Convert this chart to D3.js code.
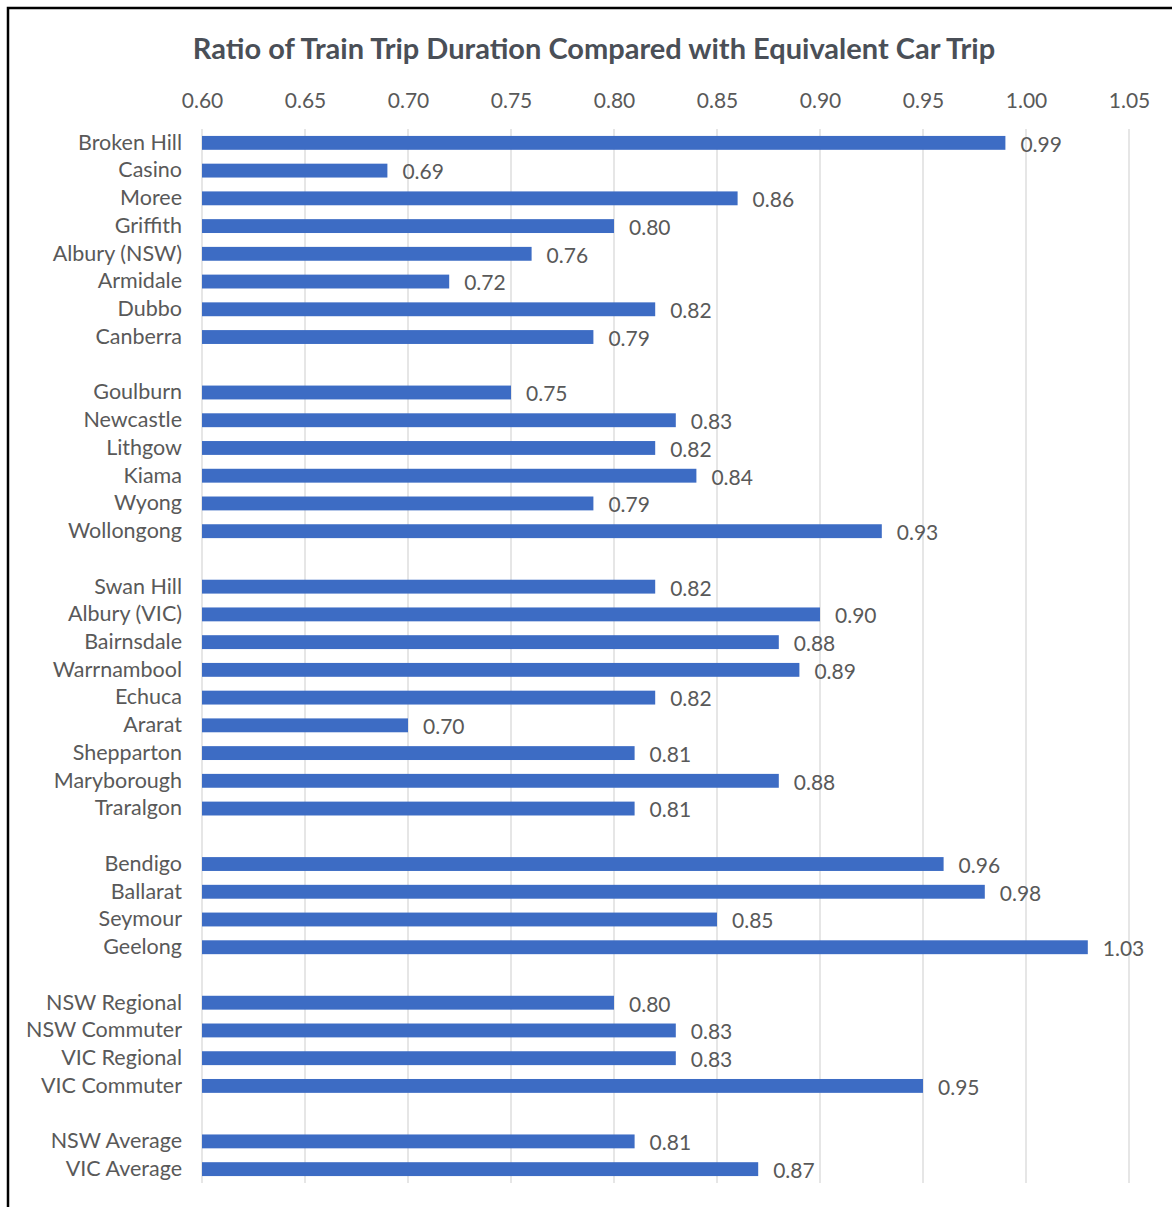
<!DOCTYPE html>
<html><head><meta charset="utf-8">
<script src="https://cdn.jsdelivr.net/npm/d3@7"></script>
<style>body{margin:0;background:#fff;}svg{display:block;}</style>
</head><body>
<script>
const title = "Ratio of Train Trip Duration Compared with Equivalent Car Trip";
const groups = [
  ["Broken Hill","Casino","Moree","Griffith","Albury (NSW)","Armidale","Dubbo","Canberra"],
  ["Goulburn","Newcastle","Lithgow","Kiama","Wyong","Wollongong"],
  ["Swan Hill","Albury (VIC)","Bairnsdale","Warrnambool","Echuca","Ararat","Shepparton","Maryborough","Traralgon"],
  ["Bendigo","Ballarat","Seymour","Geelong"],
  ["NSW Regional","NSW Commuter","VIC Regional","VIC Commuter"],
  ["NSW Average","VIC Average"]
];
const values = [
  [0.99,0.69,0.86,0.80,0.76,0.72,0.82,0.79],
  [0.75,0.83,0.82,0.84,0.79,0.93],
  [0.82,0.90,0.88,0.89,0.82,0.70,0.81,0.88,0.81],
  [0.96,0.98,0.85,1.03],
  [0.80,0.83,0.83,0.95],
  [0.81,0.87]
];
const ticks = [0.60,0.65,0.70,0.75,0.80,0.85,0.90,0.95,1.00,1.05];

const W = 1172, H = 1207;
const svg = d3.select("body").append("svg").attr("width", W).attr("height", H);
svg.append("rect").attr("width", W).attr("height", H).attr("fill", "#fff");
// frame
svg.append("path").attr("d", `M8,${H+5} V8 H${W+5}`).attr("fill","none").attr("stroke","#000").attr("stroke-width",2.5);

const font = "Lato, 'Open Sans', sans-serif";
const rows = [];
groups.forEach((g, gi) => {
  g.forEach((c, i) => rows.push({key: c, label: c, value: values[gi][i]}));
  if (gi < groups.length - 1) rows.push({key: "__gap" + gi, label: null, value: null});
});

const x = d3.scaleLinear().domain([0.60, 1.05]).range([202, 1129]);
const y = d3.scaleBand().domain(rows.map(r => r.key)).range([129, 1183]).paddingInner(0.5).paddingOuter(0.25);

svg.append("text").attr("x", 594).attr("y", 59).attr("text-anchor","middle")
  .attr("font-family", font).attr("font-weight","bold").attr("font-size", 29).attr("fill","#4a4f57").text(title);

const grid = svg.append("g");
grid.selectAll("line").data(ticks).join("line")
  .attr("x1", d => x(d)).attr("x2", d => x(d)).attr("y1", 129).attr("y2", 1183)
  .attr("stroke", "#d9d9d9").attr("stroke-width", 1.3);

const axis = d3.axisTop(x).tickValues(ticks).tickFormat(d3.format(".2f")).tickSize(0).tickPadding(0);
const ag = svg.append("g").attr("transform", "translate(0,108)").call(axis);
ag.select(".domain").remove();
ag.selectAll("text").attr("font-family", font).attr("font-size", 21).attr("fill", "#595959");

const data = rows.filter(r => r.label);
svg.append("g").selectAll("rect").data(data).join("rect")
  .attr("x", x(0.60)).attr("y", d => y(d.key)).attr("height", y.bandwidth())
  .attr("width", d => x(d.value) - x(0.60)).attr("fill", "#3d6cc4");

const yAxis = d3.axisLeft(y).tickValues(data.map(d => d.key)).tickSize(0).tickPadding(20);
const yg = svg.append("g").attr("transform", `translate(${x(0.60)},0)`).call(yAxis);
yg.select(".domain").remove();
yg.selectAll("text").attr("font-family", font).attr("font-size", 21.5).attr("fill", "#595959");

svg.append("g").selectAll("text").data(data).join("text")
  .attr("x", d => x(d.value) + 15).attr("y", d => y(d.key) + y.bandwidth()/2 + 1.5)
  .attr("dy", "0.35em").attr("font-family", font).attr("font-size", 21).attr("fill", "#595959")
  .text(d => d3.format(".2f")(d.value));
</script>
</body></html>
